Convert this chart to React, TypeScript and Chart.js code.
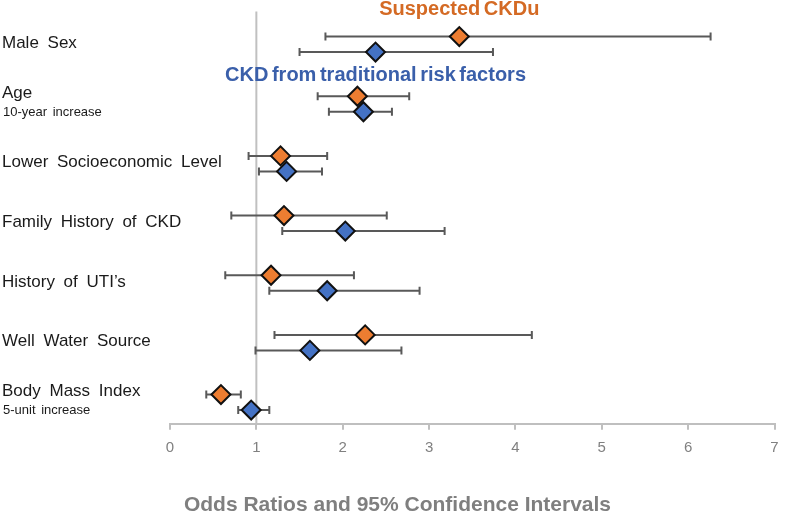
import React, { useEffect, useRef } from "react";
import { Chart, registerables } from "chart.js";

Chart.register(...registerables);

const categories = [
  "Male Sex",
  "Age",
  "Lower Socioeconomic Level",
  "Family History of CKD",
  "History of UTI’s",
  "Well Water Source",
  "Body Mass Index",
];
const subLabels = ["", "10-year increase", "", "", "", "", "5-unit increase"];

const ckduOR = [3.35, 2.17, 1.28, 1.32, 1.17, 2.26, 0.59];
const ckduLow = [1.8, 1.71, 0.91, 0.71, 0.64, 1.21, 0.42];
const ckduHigh = [6.26, 2.77, 1.82, 2.51, 2.13, 4.19, 0.82];

const tradOR = [2.38, 2.24, 1.35, 2.03, 1.82, 1.62, 0.94];
const tradLow = [1.5, 1.84, 1.03, 1.3, 1.15, 0.99, 0.79];
const tradHigh = [3.74, 2.57, 1.76, 3.18, 2.89, 2.68, 1.15];

const xTicks = [0, 1, 2, 3, 4, 5, 6, 7];
const seriesNames = ["Suspected CKDu", "CKD from traditional risk factors"];
const axisTitle = "Odds Ratios and 95% Confidence Intervals";

const ORANGE = "#ED7D31";
const BLUE = "#4472C4";
const ORANGE_TEXT = "#D46A24";
const BLUE_TEXT = "#3A5FAA";
const FONT = "'Liberation Sans', Arial, sans-serif";
const OFF = 0.13;

const forestPlugin = {
  id: "forest",
  beforeDatasetsDraw(chart: any) {
    const { ctx, chartArea, scales } = chart;
    const x = scales.x;
    const y = scales.y;
    ctx.save();
    ctx.strokeStyle = "#c0c0c0";
    ctx.lineWidth = 2;
    const x1 = x.getPixelForValue(1);
    ctx.beginPath();
    ctx.moveTo(x1, chartArea.top);
    ctx.lineTo(x1, chartArea.bottom);
    ctx.stroke();

    ctx.strokeStyle = "#595959";
    ctx.lineWidth = 2;
    const bar = (lo: number, hi: number, yv: number) => {
      const py = y.getPixelForValue(yv);
      const a = x.getPixelForValue(lo);
      const b = x.getPixelForValue(hi);
      ctx.beginPath();
      ctx.moveTo(a, py);
      ctx.lineTo(b, py);
      ctx.moveTo(a, py - 4);
      ctx.lineTo(a, py + 4);
      ctx.moveTo(b, py - 4);
      ctx.lineTo(b, py + 4);
      ctx.stroke();
    };
    categories.forEach((_, i) => {
      bar(ckduLow[i], ckduHigh[i], i - OFF);
      bar(tradLow[i], tradHigh[i], i + OFF);
    });
    ctx.restore();
  },
  afterDatasetsDraw(chart: any) {
    const { ctx, scales } = chart;
    const x = scales.x;
    const y = scales.y;
    ctx.save();
    ctx.textBaseline = "middle";
    ctx.textAlign = "left";
    ctx.fillStyle = "#1a1a1a";
    categories.forEach((c, i) => {
      const cy = y.getPixelForValue(i);
      (ctx as any).wordSpacing = "4px";
      if (subLabels[i]) {
        ctx.font = `17px ${FONT}`;
        ctx.fillText(c, 2, cy - 11);
        (ctx as any).wordSpacing = "2px";
        ctx.font = `13px ${FONT}`;
        ctx.fillText(subLabels[i], 3, cy + 8);
      } else {
        ctx.font = `17px ${FONT}`;
        ctx.fillText(c, 2, cy - 1);
      }
    });
    (ctx as any).wordSpacing = "-2px";
    ctx.textAlign = "center";
    ctx.font = `bold 20px ${FONT}`;
    ctx.fillStyle = ORANGE_TEXT;
    ctx.fillText(seriesNames[0], x.getPixelForValue(ckduOR[0]), 9);
    ctx.fillStyle = BLUE_TEXT;
    ctx.fillText(seriesNames[1], x.getPixelForValue(tradOR[0]), y.getPixelForValue(0.52));
    (ctx as any).wordSpacing = "0px";
    ctx.restore();
  },
};

export default function App() {
  const ref = useRef<HTMLCanvasElement>(null);
  useEffect(() => {
    if (!ref.current) return;
    const chart = new Chart(ref.current, {
      type: "scatter",
      data: {
        datasets: [
          {
            label: seriesNames[0],
            data: ckduOR.map((v, i) => ({ x: v, y: i - OFF })),
            backgroundColor: ORANGE,
            borderColor: "#111",
            borderWidth: 2,
            pointStyle: "rectRot",
            pointRadius: 9.5,
          },
          {
            label: seriesNames[1],
            data: tradOR.map((v, i) => ({ x: v, y: i + OFF })),
            backgroundColor: BLUE,
            borderColor: "#111",
            borderWidth: 2,
            pointStyle: "rectRot",
            pointRadius: 9.5,
          },
        ],
      },
      options: {
        animation: false,
        responsive: true,
        maintainAspectRatio: false,
        font: { family: FONT },
        layout: { padding: { left: 9, top: 8, right: 0, bottom: 0 } },
        scales: {
          x: {
            type: "linear",
            min: 0,
            max: 7,
            afterBuildTicks: (s: any) => {
              s.ticks = xTicks.map((v) => ({ value: v }));
            },
            afterFit: (s: any) => {
              s.paddingRight = 5;
              s.paddingLeft = 0;
            },
            ticks: {
              color: "#808080",
              font: { family: FONT, size: 15 },
              padding: 9,
              callback: (v: any) => String(v),
            },
            grid: {
              display: true,
              drawOnChartArea: false,
              drawTicks: true,
              tickLength: 6,
              color: "#bfbfbf",
              lineWidth: 2,
            },
            border: { display: true, color: "#bfbfbf", width: 2 },
          },
          y: {
            type: "linear",
            reverse: true,
            min: -0.55,
            max: 6.36,
            grid: { display: false },
            border: { display: false },
            ticks: { display: false, padding: 0 },
            afterFit: (s: any) => {
              s.width = 161;
              s.paddingTop = 0;
              s.paddingBottom = 0;
            },
          },
        },
        plugins: {
          legend: { display: false },
          tooltip: { enabled: false },
          title: {
            display: true,
            position: "bottom",
            text: axisTitle,
            color: "#7f7f7f",
            font: { family: FONT, size: 21, weight: "bold" },
            padding: { top: 27, bottom: 0 },
          },
        },
      } as any,
      plugins: [forestPlugin],
    });
    return () => chart.destroy();
  }, []);
  return (
    <div style={{ position: "absolute", left: 0, top: 0, width: 786, height: 518, background: "#fff" }}>
      <canvas ref={ref} />
    </div>
  );
}
